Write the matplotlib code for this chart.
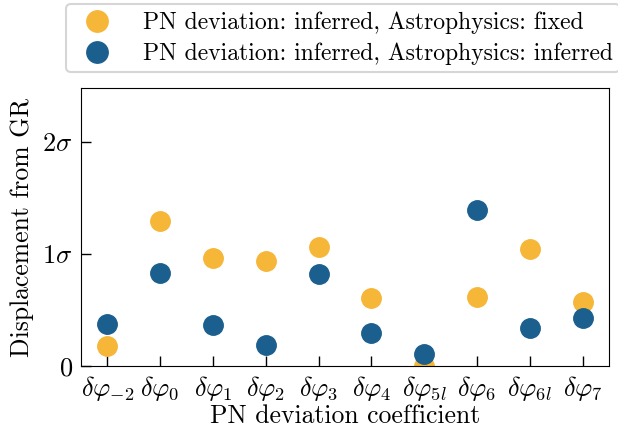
import matplotlib.pyplot as plt
import numpy as np

plt.rcParams['font.family'] = 'cmr10'
plt.rcParams['mathtext.fontset'] = 'cm'
plt.rcParams['axes.unicode_minus'] = False

coeffs = [r'$\delta\varphi_{-2}$', r'$\delta\varphi_0$', r'$\delta\varphi_1$', r'$\delta\varphi_2$',
          r'$\delta\varphi_3$', r'$\delta\varphi_4$', r'$\delta\varphi_{5l}$', r'$\delta\varphi_6$',
          r'$\delta\varphi_{6l}$', r'$\delta\varphi_7$']
astro_fixed = [0.18, 1.29, 0.96, 0.94, 1.06, 0.61, 0.0, 0.62, 1.04, 0.57]
astro_inferred = [0.375, 0.83, 0.37, 0.19, 0.82, 0.29, 0.11, 1.39, 0.34, 0.43]
yticks = [0, 1, 2]
yticklabels = [r'$0$', r'$1\sigma$', r'$2\sigma$']

x = np.arange(len(coeffs))

fig = plt.figure(figsize=(6.18, 4.34), dpi=100)
ax = fig.add_axes([81/618, 1-366/434, 528/618, 278/434])

ax.plot(x, astro_fixed, 'o', ms=14, color='#F6B638', label='PN deviation: inferred, Astrophysics: fixed')
ax.plot(x, astro_inferred, 'o', ms=14, color='#1B5F8E', label='PN deviation: inferred, Astrophysics: inferred')

ax.set_xlim(-0.5, 9.5)
ax.set_ylim(0, 2.48)
ax.set_xticks(x)
ax.set_xticklabels(coeffs, fontsize=19)
ax.set_yticks(yticks)
ax.set_yticklabels(yticklabels, fontsize=19)
ax.tick_params(direction='in', length=7, width=1, pad=6)
ax.set_xlabel('PN deviation coefficient', fontsize=18.5, labelpad=1)
ax.set_ylabel('Displacement from GR', fontsize=18.5, labelpad=6)

leg = ax.legend(loc='lower left', bbox_to_anchor=(-0.028, 1.058), fontsize=17,
                frameon=True, borderaxespad=0, handletextpad=0.95, labelspacing=0.35,
                borderpad=0.3, markerscale=1.1)
leg.get_frame().set_edgecolor('#cccccc')
leg.get_frame().set_linewidth(1.5)

fig.savefig('out.png', dpi=100)
